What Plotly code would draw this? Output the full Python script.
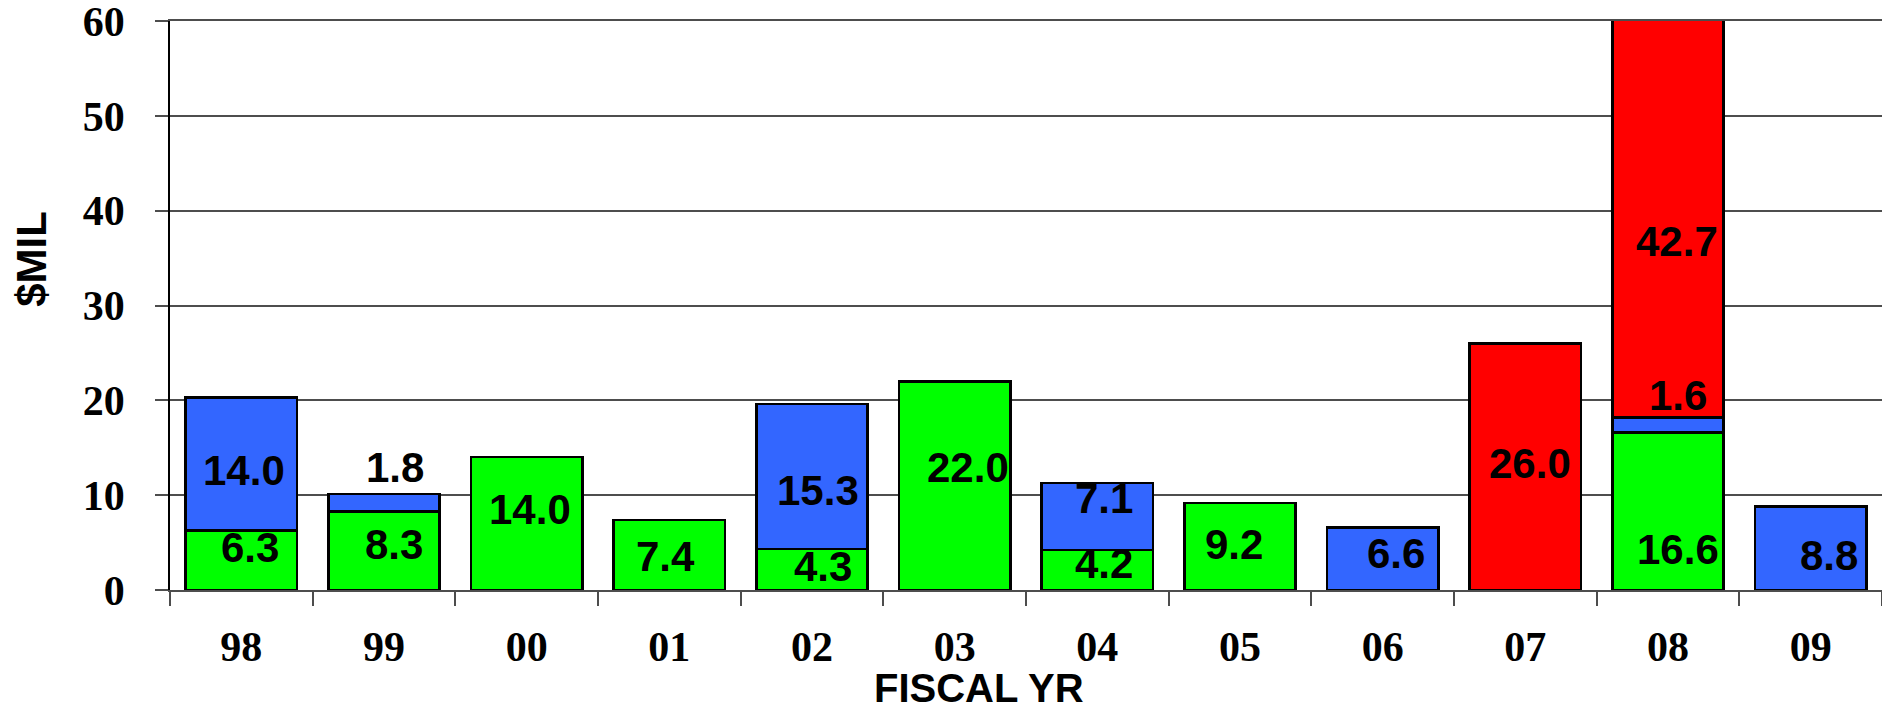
import plotly.graph_objects as go

# Fiscal-year spending, $ millions, split into three funding components
years = ["98", "99", "00", "01", "02", "03", "04", "05", "06", "07", "08", "09"]
green_vals = [6.3, 8.3, 14.0, 7.4, 4.3, 22.0, 4.2, 9.2, None, None, 16.6, None]
blue_vals = [14.0, 1.8, None, None, 15.3, None, 7.1, None, 6.6, None, 1.6, 8.8]
red_vals = [None, None, None, None, None, None, None, None, None, 26.0, 42.7, None]
y_ticks = [0, 10, 20, 30, 40, 50, 60]

# Where each value label sits: (offset from category centre, height in $MIL)
green_label_at = [(0.06, 4.5), (0.07, 4.75), (0.02, 8.5), (-0.03, 3.5), (0.08, 2.45),
                  (0.09, 12.9), (0.05, 2.75), (-0.04, 4.75), None, None, (0.07, 4.3), None]
blue_label_at = [(0.02, 12.65), (0.08, 12.9), None, None, (0.04, 10.45), None,
                 (0.05, 9.6), None, (0.09, 3.9), None, (0.07, 20.55), (0.13, 3.6)]
red_label_at = [None, None, None, None, None, None, None, None, None,
                (0.03, 13.3), (0.06, 36.8), None]

SANS = "Liberation Sans, Arial, sans-serif"
SERIF = "Liberation Serif, Times New Roman, serif"
GRID = "#4d4d4d"

layers = [
    ("green", green_vals, "#00FF00", green_label_at),
    ("blue", blue_vals, "#3366FF", blue_label_at),
    ("red", red_vals, "#FF0000", red_label_at),
]

fig = go.Figure()
annotations = []
for name, vals, color, spots in layers:
    fig.add_trace(go.Bar(
        name=name,
        x=years,
        y=vals,
        marker=dict(color=color, line=dict(color="#000000", width=2.5)),
        hoverinfo="skip",
    ))
    for i, (v, spot) in enumerate(zip(vals, spots)):
        if v is None or spot is None:
            continue
        dx, ypos = spot
        annotations.append(dict(
            x=i + dx, y=ypos, xref="x", yref="y",
            text=f"{v:.1f}", showarrow=False,
            xanchor="center", yanchor="middle",
            font=dict(family=SANS, size=42, color="#000000", weight="bold"),
        ))

# axis titles
annotations.append(dict(
    x=-0.0806, y=0.582, xref="paper", yref="paper", text="$MIL",
    showarrow=False, textangle=-90, xanchor="center", yanchor="middle",
    font=dict(family=SANS, size=42, color="#000000", weight="bold"),
))
annotations.append(dict(
    x=0.4725, y=-0.173, xref="paper", yref="paper", text="FISCAL YR",
    showarrow=False, xanchor="center", yanchor="middle",
    font=dict(family=SANS, size=40, color="#000000", weight="bold"),
))

fig.update_layout(
    barmode="stack",
    bargap=0.22,
    width=1882,
    height=710,
    margin=dict(l=170, r=0, t=21, b=120, pad=0),
    paper_bgcolor="#FFFFFF",
    plot_bgcolor="#FFFFFF",
    showlegend=False,
    annotations=annotations,
)

fig.update_xaxes(
    type="category",
    categoryorder="array",
    categoryarray=years,
    tickson="boundaries",
    ticks="outside",
    ticklen=14,
    tickwidth=1.5,
    tickcolor=GRID,
    showline=True,
    linecolor=GRID,
    linewidth=1.5,
    mirror=True,
    showgrid=False,
    layer="above traces",
    ticklabelstandoff=19,
    tickfont=dict(family=SERIF, size=42, color="#000000", weight="bold"),
)

fig.update_yaxes(
    range=[0, 60],
    tickvals=y_ticks,
    ticks="outside",
    ticklen=13,
    tickwidth=1.5,
    tickcolor=GRID,
    showgrid=True,
    gridcolor=GRID,
    gridwidth=1.5,
    zeroline=False,
    showline=True,
    linecolor="#000000",
    linewidth=1.5,
    ticklabelstandoff=22,
    ticklabeloverflow="allow",
    tickfont=dict(family=SERIF, size=42, color="#000000", weight="bold"),
)

fig.write_html("out.html")
